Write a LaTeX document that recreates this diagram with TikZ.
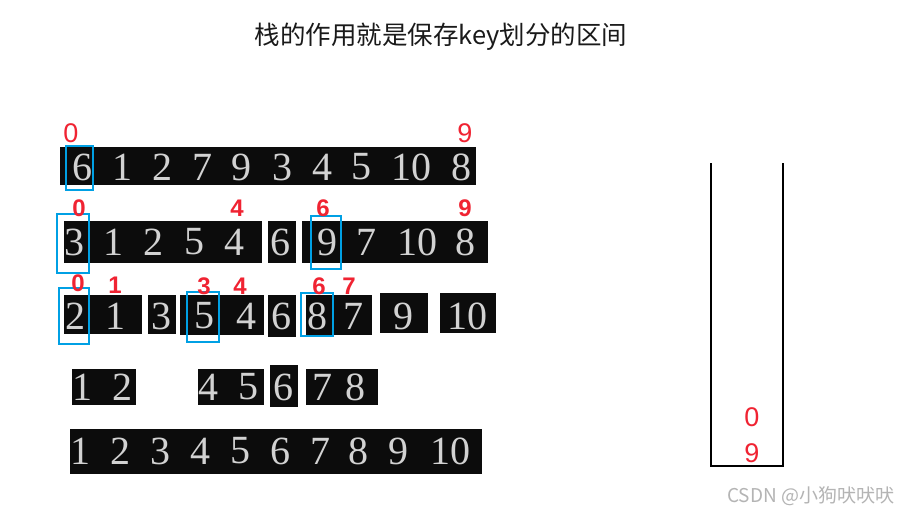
\documentclass[tikz,border=0pt]{standalone}
\usepackage{fontspec}
\setmainfont{Liberation Serif}
\newfontfamily\cjk{Noto Sans CJK SC}
\newfontfamily\lsans{Liberation Sans}
\definecolor{barblack}{HTML}{0C0C0C}
\definecolor{digitgrey}{HTML}{D2D2D2}
\definecolor{lblred}{RGB}{240,35,50}
\definecolor{boxblue}{RGB}{0,160,228}
\definecolor{titlecol}{HTML}{1A1A1A}
\definecolor{wmgrey}{HTML}{B4B4B4}
\begin{document}
\begin{tikzpicture}[x=1pt,y=-1pt,
  bar/.style={fill=barblack,draw=none},
  bluebox/.style={draw=boxblue,line width=2pt},
  dig/.style={text=digitgrey,inner sep=0pt,font=\fontsize{40}{40}\selectfont},
  lblthin/.style={text=lblred,inner sep=0pt,font=\lsans\fontsize{27}{27}\selectfont},
  lblbold/.style={text=lblred,inner sep=0pt,font=\lsans\bfseries\fontsize{24}{24}\selectfont},
  stackwall/.style={draw=black,line width=2pt}]
\useasboundingbox (0,0) rectangle (914,515);
\fill[white] (0,0) rectangle (914,515);
% title
\node[font=\cjk\fontsize{25.5}{25.5}\selectfont,text=titlecol] (title) at (441,37) {栈的作用就是保存key划分的区间};
% row 1
\path[bar] (60,147) rectangle (476,185);
\foreach \x/\t [count=\i] in {82/6,122/1,162/2,202/7,241/9,282/3,322/4,361/5,411/10,461/8}
  \node[dig,name=ra\i] at (\x,167) {\t};
\draw[bluebox] (66,146) rectangle (93,190);
\node[lblthin] (la1) at (71,133) {0};
\node[lblthin] (la2) at (465,133) {9};
% row 2
\path[bar] (64,221) rectangle (262,263);
\path[bar] (268,221) rectangle (296,263);
\path[bar] (302,221) rectangle (488,263);
\foreach \x/\t [count=\i] in {74/3,113/1,153/2,194/5,234/4,280/6,327/9,366/7,417/10,465/8}
  \node[dig,name=rb\i] at (\x,242) {\t};
\draw[bluebox] (57,214) rectangle (89,273);
\draw[bluebox] (311,216) rectangle (341,269);
\foreach \x/\t [count=\i] in {79/0,237/4,323/6,465/9}
  \node[lblbold,name=lb\i] at (\x,208) {\t};
% row 3
\path[bar] (64,295) rectangle (142,334);
\path[bar] (148,295) rectangle (176,334);
\path[bar] (180,295) rectangle (264,335);
\path[bar] (268,295) rectangle (296,337);
\path[bar] (306,295) rectangle (372,335);
\path[bar] (380,293) rectangle (428,333);
\path[bar] (440,293) rectangle (496,333);
\foreach \x/\t [count=\i] in {75/2,115/1,161/3,204/5,246/4,281/6,317/8,353/7,403/9,467/10}
  \node[dig,name=rc\i] at (\x,316) {\t};
\draw[bluebox] (59,288) rectangle (89,344);
\draw[bluebox] (187,292) rectangle (219,342);
\draw[bluebox] (301,293) rectangle (333,336);
\foreach \x/\y/\t [count=\i] in {78/283/0,115/285/1,204/286.5/3,240/286/4,319/286.5/6,349/286/7}
  \node[lblbold,name=lc\i] at (\x,\y) {\t};
% row 4
\path[bar] (72,369) rectangle (136,405);
\path[bar] (198,369) rectangle (264,405);
\path[bar] (270,365) rectangle (298,407);
\path[bar] (306,369) rectangle (378,405);
\foreach \x/\t [count=\i] in {82/1,122/2,208/4,248/5,283/6,322/7,355/8}
  \node[dig,name=rd\i] at (\x,387) {\t};
% row 5
\path[bar] (70,429) rectangle (482,474);
\foreach \x/\t [count=\i] in {80/1,120/2,160/3,200/4,240/5,280/6,320/7,358/8,398/9,450/10}
  \node[dig,name=re\i] at (\x,451) {\t};
% stack
\draw[stackwall] (711,163) -- (711,466) -- (783,466) -- (783,163);
\node[lblthin] (s1) at (752,417) {0};
\node[lblthin] (s2) at (752,453) {9};
% watermark
\node[font=\cjk\fontsize{19}{19}\selectfont,text=wmgrey,anchor=west,inner sep=0pt] (wm) at (727,496) {CSDN @小狗吠吠吠};
\end{tikzpicture}
\end{document}
